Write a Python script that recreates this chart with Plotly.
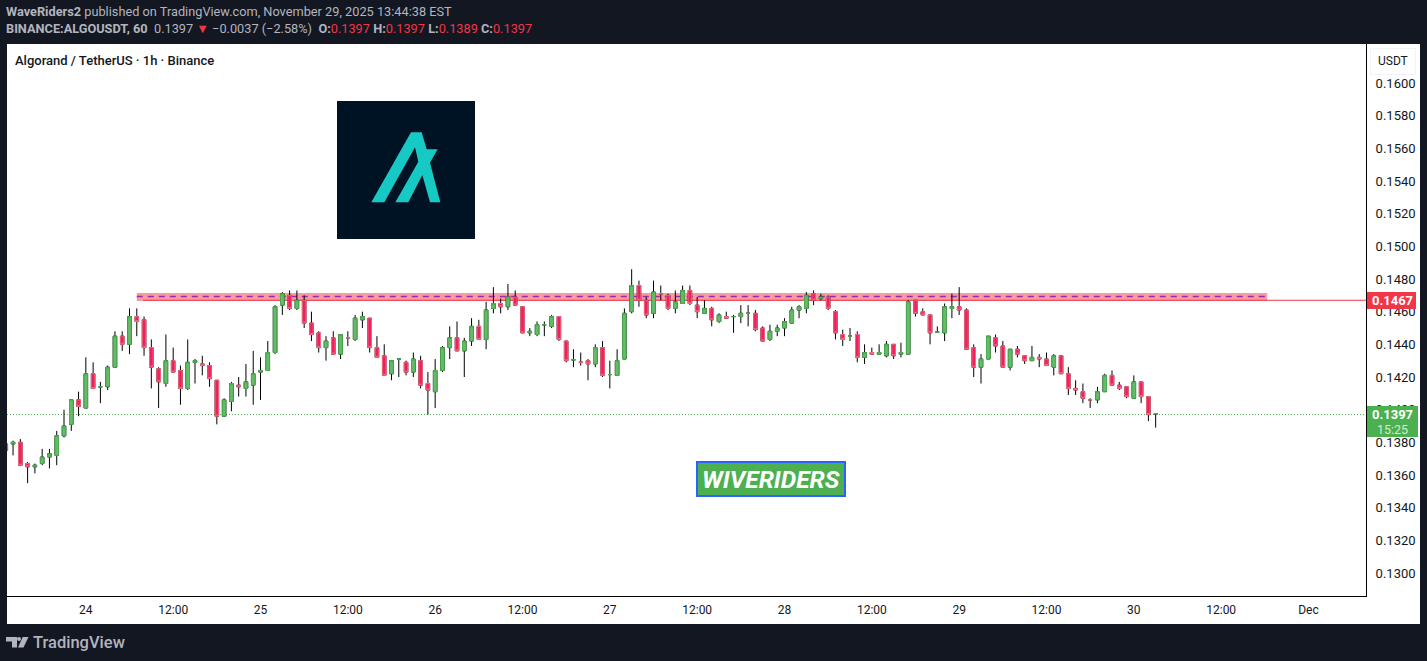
import pandas as pd
import plotly.graph_objects as go

W, H = 1427, 661
PLOT_L, PLOT_R, PLOT_T, PLOT_B = 7, 1366, 44, 596

DARK = "#131722"
RED = "#F23645"
GREEN = "#4CAF50"

# hourly candles, first one is Nov 23 13:00
opens = [
    .1375, .1379, .1380, .1367, .1365, .1367, .1371, .1372, .1384, .1391,
    .1406, .1401, .1422, .1414, .1414, .1426, .1445, .1440, .1457, .1455,
    .1438, .1425, .1416, .1430, .1424, .1413, .1429, .1428, .1427, .1418,
    .1396, .1405, .1415, .1413, .1415, .1423, .1424, .1435, .1464, .1470,
    .1462, .1467, .1453, .1447, .1438, .1444, .1434, .1444, .1443, .1455,
    .1456, .1438, .1433, .1422, .1431, .1429, .1423, .1430, .1416, .1411,
    .1424, .1438, .1444, .1436, .1442, .1451, .1443, .1462, .1465, .1463,
    .1469, .1463, .1447, .1446, .1452, .1451, .1457, .1442, .14305, .1429,
    .1430, .1428, .1438, .14215, .1421, .1431, .1460, .1476, .1467, .1459,
    .1471, .1470, .1462, .1465, .1473, .1464, .1459, .1462, .1454, .1457,
    .1457, .1457, .1459, .1459, .1450, .1443, .1448, .1450, .1453, .1461,
    .1462, .1471, .1468, .1469, .1460, .1446, .1445, .1446, .1432, .1435,
    .1434, .1433, .1440, .1434, .1434, .1467, .1460, .1458, .14475, .1447,
    .1462, .1463, .1461, .1438, .1426, .1431, .1444, .1439, .1426, .1437,
    .1433, .1430, .1432, .1431, .1426, .1433, .1422, .1413, .1411, .1406,
    .1406, .1411, .1421, .1415, .1414, .1407, .1417, .1408, .13975,
]
highs = [
    .1380, .1381, .1382, .1368, .1367, .1376, .1376, .1387, .1400, .1406,
    .1411, .1432, .1429, .1417, .1427, .1448, .1448, .1462, .1462, .1457,
    .1443, .1426, .1446, .1438, .1427, .1443, .1431, .1433, .1429, .1418,
    .1407, .1417, .1420, .1428, .1436, .1432, .1442, .1464, .1472, .1473,
    .1473, .1470, .1460, .1448, .1445, .1448, .1446, .1448, .1458, .1460,
    .1456, .1445, .1440, .1430, .1431, .1430, .1435, .1433, .1423, .1431,
    .1439, .1451, .1454, .1444, .1456, .1455, .1466, .1475, .1468, .1477,
    .1473, .1463, .1450, .1454, .1454, .1458, .1457, .1442, .1437, .1435,
    .1431, .1440, .1442, .1430, .1437, .1462, .1486, .1479, .1469, .1479,
    .1476, .1471, .1473, .1476, .1476, .1469, .1467, .1463, .1459, .1460,
    .1458, .1464, .1464, .1461, .1451, .1452, .1452, .1456, .1463, .1464,
    .1472, .1473, .1471, .1470, .1461, .1449, .1450, .1448, .1440, .1438,
    .1440, .1442, .1440, .1441, .1467, .1467, .1462, .1458, .1451, .1465,
    .1471, .1475, .1462, .1440, .1434, .1445, .1446, .1442, .1437, .1439,
    .1433, .1439, .1434, .1435, .1434, .1433, .1426, .1418, .1416, .1407,
    .1414, .1422, .1424, .1417, .1414, .1421, .1417, .1408, .13975,
]
lows = [
    .1375, .1372, .1366, .1355, .1361, .1366, .1364, .1366, .1383, .1387,
    .1396, .1401, .1413, .1404, .1412, .1426, .1436, .1434, .1445, .1433,
    .1413, .1401, .1414, .1423, .1403, .1412, .1416, .1421, .1414, .1391,
    .1396, .1399, .1408, .1408, .1403, .1406, .1424, .1434, .1458, .1461,
    .1461, .1450, .1442, .1435, .1430, .1434, .1431, .1439, .1442, .1450,
    .1435, .1432, .1421, .1418, .1420, .1421, .1420, .1413, .1397, .1401,
    .1423, .1431, .1436, .1420, .1439, .1443, .1437, .1459, .1459, .1461,
    .1464, .1447, .1445, .1445, .1445, .1450, .1442, .1429, .1426, .1427,
    .1418, .1426, .1420, .1413, .1421, .1431, .1459, .1463, .1456, .1456,
    .1467, .1461, .1459, .1465, .1464, .1456, .1459, .1451, .1453, .1456,
    .1447, .1453, .1451, .1448, .1442, .1442, .1445, .1445, .1453, .1456,
    .1459, .1464, .1467, .1461, .1443, .1439, .1442, .1429, .1428, .1434,
    .1434, .1432, .1431, .1432, .1434, .1457, .1458, .1440, .1447, .1442,
    .1456, .1458, .1437, .1420, .1416, .1431, .1435, .1426, .1424, .1432,
    .1428, .1430, .1426, .1427, .1421, .1422, .1409, .1409, .1404, .1401,
    .1404, .1411, .1415, .1412, .1407, .1407, .1404, .1393, .1389,
]
closes = [
    .1379, .1380, .1366, .1365, .1366, .1371, .1373, .1384, .1390, .1406,
    .1402, .1422, .1413, .1414, .1426, .1445, .1440, .1457, .1454, .1438,
    .1426, .1417, .1430, .1423, .1413, .1429, .1430, .1427, .1419, .1396,
    .1406, .1416, .1414, .1417, .1422, .1424, .1435, .1463, .1471, .1462,
    .1467, .1453, .1446, .1438, .1442, .1434, .1446, .1444, .1456, .1457,
    .1438, .1432, .1421, .1430, .1431, .1423, .1431, .1415, .1412, .1424,
    .1438, .1444, .1436, .1442, .1451, .1443, .1461, .1465, .1463, .1469,
    .1464, .1447, .1448, .1452, .1452, .1457, .1443, .1430, .14305, .1429,
    .1428, .1438, .1421, .14215, .1430, .1459, .1476, .1467, .1458, .1472,
    .1471, .1462, .1466, .1473, .1465, .1460, .1462, .1455, .1458, .1456,
    .1457, .1459, .1459, .1449, .1442, .1448, .1450, .1454, .1461, .1463,
    .1470, .1467, .1469, .1462, .1447, .1443, .1445, .1432, .1435, .1434,
    .1435, .1440, .1433, .1435, .1466, .1459, .1458, .1447, .14475, .1463,
    .1463, .1461, .1437, .1426, .1431, .1445, .1439, .1426, .1437, .1434,
    .1430, .1432, .1431, .1427, .1433, .1422, .1413, .1412, .1407, .1406,
    .1411, .1421, .1415, .1413, .1408, .1417, .1408, .1397, .13975,
]
times = pd.date_range("2025-11-23 13:00", periods=len(opens), freq="h")

price_ticks = [.16, .158, .156, .154, .152, .15, .148, .146, .144, .142, .14, .138, .136, .134, .132, .13]
date_ticks = [
    "2025-11-24 00:00", "2025-11-24 12:00", "2025-11-25 00:00", "2025-11-25 12:00",
    "2025-11-26 00:00", "2025-11-26 12:00", "2025-11-27 00:00", "2025-11-27 12:00",
    "2025-11-28 00:00", "2025-11-28 12:00", "2025-11-29 00:00", "2025-11-29 12:00",
    "2025-11-30 00:00", "2025-11-30 12:00", "2025-12-01 00:00",
]
date_labels = ["24", "12:00", "25", "12:00", "26", "12:00", "27", "12:00", "28", "12:00", "29", "12:00", "30", "12:00", "Dec"]

zone_start, zone_end = "2025-11-24 07:00", "2025-11-30 18:20"
zone_low, zone_high = 0.14665, 0.14714
zone_mid = 0.14693
level_price = 0.1467
last_price = 0.1397


def px(x):
    return (x - PLOT_L) / (PLOT_R - PLOT_L)


def py(y):
    return (PLOT_B - y) / (PLOT_B - PLOT_T)


def paper_path(points):
    return "M" + " L".join(f"{px(x):.5f},{py(y):.5f}" for x, y in points) + " Z"


def paper_rect(x0, y0, x1, y1, **kw):
    return dict(type="rect", xref="paper", yref="paper", x0=px(x0), y0=py(y0), x1=px(x1), y1=py(y1), **kw)


def label(x, y, text, size=12, color=DARK, anchor="left", **font):
    return dict(
        xref="paper", yref="paper", x=px(x), y=py(y), text=text, showarrow=False,
        xanchor=anchor, yanchor="middle", align="left",
        font=dict(family="Roboto", size=size, color=color, **font),
    )


fig = go.Figure()

# wicks first, bodies drawn over them so the wick stays black and the body keeps its border
fig.add_trace(go.Candlestick(
    x=times, open=opens, high=highs, low=lows, close=closes,
    increasing=dict(line=dict(color="#000000", width=1), fillcolor="#000000"),
    decreasing=dict(line=dict(color="#000000", width=1), fillcolor="#000000"),
    showlegend=False,
))
fig.add_trace(go.Candlestick(
    x=times, open=opens, close=closes,
    high=[max(o, c) for o, c in zip(opens, closes)],
    low=[min(o, c) for o, c in zip(opens, closes)],
    increasing=dict(line=dict(color=GREEN, width=1), fillcolor="#66BB6A"),
    decreasing=dict(line=dict(color="#F7687F", width=1), fillcolor="#F01F5E"),
    showlegend=False,
))

# logo of the coin, pixel outline
logo = [(124, 322), (243, 112), (275, 112), (290, 163), (323, 163), (300, 203), (331, 322),
        (300, 322), (277, 240), (235, 322), (196, 322), (265, 200), (255, 157), (163, 322)]
logo = [(330 + a / 3, 95 + b / 3) for a, b in logo]
tv_t = [(6, 637), (17, 637), (17, 647.5), (12, 647.5), (12, 641.5), (6, 641.5)]
tv_v = [(28.5, 637), (23.5, 647.5), (18, 647.5), (22.7, 637)]

shapes = [
    # white panels of the two axes
    paper_rect(PLOT_R, 44, 1420, 624, fillcolor="white", line_width=0, layer="below"),
    paper_rect(7, PLOT_B, 1420, 624, fillcolor="white", line_width=0, layer="below"),
    # resistance zone
    dict(type="rect", xref="x", yref="y", x0=zone_start, x1=zone_end, y0=zone_low, y1=zone_high,
         fillcolor="rgba(242,54,69,0.5)", line_width=0, layer="below"),
    dict(type="line", xref="x", yref="y", x0=zone_start, x1=zone_end, y0=zone_mid, y1=zone_mid,
         line=dict(color="#9C27B0", width=1.3, dash="6px,5px"), layer="below"),
    dict(type="line", xref="paper", yref="y", x0=px(143), x1=1, y0=level_price, y1=level_price,
         line=dict(color=RED, width=1), layer="below"),
    dict(type="line", xref="paper", yref="y", x0=0, x1=1, y0=last_price, y1=last_price,
         line=dict(color=GREEN, width=1, dash="1px,2px"), layer="below"),
    # logo
    paper_rect(337, 101, 475, 239, fillcolor="#001324", line_width=0),
    dict(type="path", xref="paper", yref="paper", path=paper_path(logo), fillcolor="#17C9C5", line_width=0),
    # text boxes
    paper_rect(697, 462, 845, 496, fillcolor=GREEN, line=dict(color="#2962FF", width=2)),
    paper_rect(1370.5, 48.5, 1415.5, 74.5, fillcolor="white", line=dict(color="#F0F3FA", width=1)),
    paper_rect(1367, 292, 1416, 309, fillcolor=RED, line_width=0),
    paper_rect(1367, 406, 1418, 437, fillcolor=GREEN, line_width=0),
    # TradingView mark
    dict(type="path", xref="paper", yref="paper", path=paper_path(tv_t), fillcolor="#B2B5BE", line_width=0),
    dict(type="path", xref="paper", yref="paper", path=paper_path(tv_v), fillcolor="#B2B5BE", line_width=0),
    dict(type="circle", xref="paper", yref="paper", x0=px(17), x1=px(21), y0=py(641), y1=py(637),
         fillcolor="#B2B5BE", line_width=0),
]

red_span = f'<span style="color:{RED}">'
annotations = [
    label(4, 12, "<b>WaveRiders2</b> published on TradingView.com, November 29, 2025 13:44:38 EST",
          size=12.75, color="#B2B5BE"),
    label(4, 29, f"<b>BINANCE:ALGOUSDT, 60</b>  0.1397 {red_span}▼</span> −0.0037 (−2.58%)  "
                 f"<b>O:</b>{red_span}0.1397</span> <b>H:</b>{red_span}0.1397</span> "
                 f"<b>L:</b>{red_span}0.1389</span> <b>C:</b>{red_span}0.1397</span>",
          size=12.75, color="#B2B5BE"),
    label(13, 60, "Algorand / TetherUS · 1h · Binance", size=13, weight=500),
    label(771, 479, "<b><i>WIVERIDERS</i></b>", size=24.5, color="white", anchor="center"),
    label(1393, 61, "USDT", size=12, anchor="center"),
    label(1392.5, 300.5, "<b>0.1467</b>", size=13, color="white", anchor="center"),
    label(1392.5, 414, "<b>0.1397</b>", size=13, color="white", anchor="center"),
    label(1392.5, 429, "15:25", size=12.5, color="#D5EBD6", anchor="center"),
    label(31, 642, "TradingView", size=16.5, color="#B2B5BE", weight=500),
]

fig.update_xaxes(
    type="date",
    range=["2025-11-23 13:10", "2025-12-01 07:54"],
    rangeslider_visible=False,
    tickmode="array", tickvals=date_ticks, ticktext=date_labels, tickangle=0,
    ticks="outside", ticklen=3, tickcolor="rgba(0,0,0,0)",
    tickfont=dict(family="Roboto", size=12, color=DARK),
    showgrid=False, zeroline=False,
    showline=True, linecolor="#000000", linewidth=1,
)
fig.update_yaxes(
    side="right",
    range=[0.12859, 0.16239],
    tickmode="array", tickvals=price_ticks, ticktext=[f"{p:.4f}" for p in price_ticks],
    ticks="outside", ticklen=6, tickcolor="rgba(0,0,0,0)",
    tickfont=dict(family="Roboto", size=13, color=DARK),
    showgrid=False, zeroline=False,
    showline=True, linecolor="#000000", linewidth=1,
)
fig.update_layout(
    width=W, height=H,
    margin=dict(l=PLOT_L, r=W - PLOT_R, t=PLOT_T, b=H - PLOT_B, pad=0),
    paper_bgcolor=DARK, plot_bgcolor="white",
    shapes=shapes, annotations=annotations,
    showlegend=False, boxgap=0.3,
)

fig.write_html(
    "out.html",
    config=dict(displayModeBar=False),
    post_script="document.body.style.margin='0';document.body.style.background='#131722';",
)
